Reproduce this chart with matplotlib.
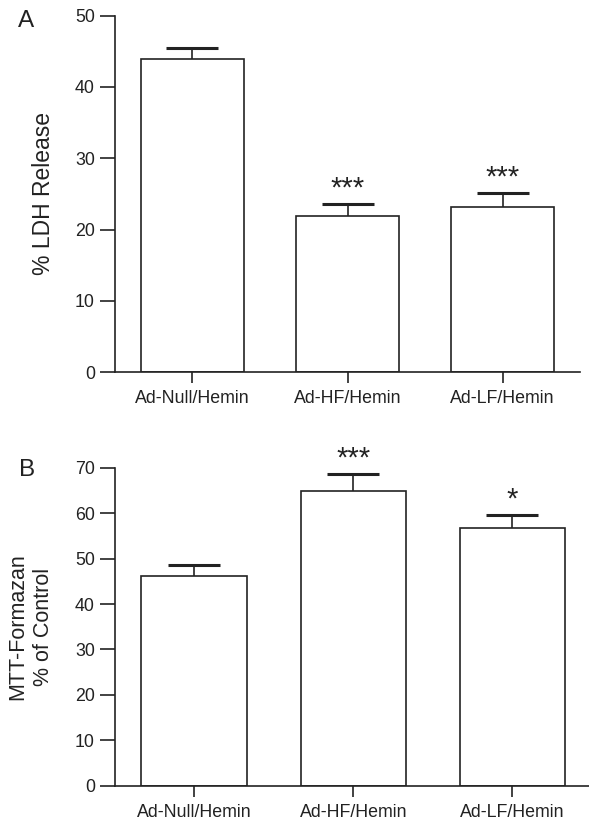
import matplotlib
matplotlib.use("Agg")
import matplotlib.pyplot as plt
import numpy as np

plt.rcParams['font.family'] = ['Liberation Sans', 'DejaVu Sans']

categories = ["Ad-Null/Hemin", "Ad-HF/Hemin", "Ad-LF/Hemin"]
ldh_values = [43.9, 21.9, 23.2]
ldh_errors = [1.6, 1.7, 1.9]
ldh_sig = ["", "***", "***"]
mtt_values = [46.2, 64.9, 56.6]
mtt_errors = [2.4, 3.6, 3.0]
mtt_sig = ["", "***", "*"]

TXT = "#222222"
fig = plt.figure(figsize=(5.89, 8.25), dpi=100)

def panel(rect, vals, errs, sig, ymax, step, ylabel, ylab_size, ylab_ls,
          letter, letter_pos, ylab_x):
    ax = fig.add_axes(rect)
    x = np.arange(len(categories))
    ax.bar(x, vals, width=0.665, color="white", edgecolor=TXT, linewidth=1.2, zorder=2)
    eb = ax.errorbar(x, vals, yerr=[np.zeros(len(vals)), errs], fmt="none", ecolor=TXT,
                     elinewidth=1.2, capsize=18.5, capthick=2.2, zorder=3)
    eb[1][0].set_visible(False)
    for xi, v, e, s in zip(x, vals, errs, sig):
        if s:
            ax.annotate(s, (xi, v + e), xytext=(0, 1), textcoords="offset points",
                        ha="center", va="bottom", fontsize=21, color=TXT)
    ax.set_xlim(-0.5, 2.5)
    ax.set_ylim(0, ymax)
    ax.set_yticks(np.arange(0, ymax + 1, step))
    ax.set_xticks(x)
    ax.set_xticklabels(categories)
    for sp in ["top", "right"]:
        ax.spines[sp].set_visible(False)
    for sp in ["left", "bottom"]:
        ax.spines[sp].set_linewidth(1.2)
        ax.spines[sp].set_color(TXT)
    ax.tick_params(axis="y", length=10.8, width=1.2, color=TXT, labelsize=12.8,
                   labelcolor=TXT, pad=3.5)
    ax.tick_params(axis="x", length=8, width=1.2, color=TXT, labelsize=12.8,
                   labelcolor=TXT, pad=5)
    ax.set_ylabel(ylabel, fontsize=ylab_size, color=TXT, linespacing=ylab_ls)
    ax.yaxis.set_label_coords(ylab_x, 0.5)
    fig.text(letter_pos[0], letter_pos[1], letter, fontsize=17.5, color=TXT,
             ha="left", va="center")
    ax.patch.set_visible(False)
    return ax

panel([0.195, 0.549, 0.79, 0.432], ldh_values, ldh_errors, ldh_sig, 50, 10,
      "% LDH Release", 16.5, 1.0, "A", (0.030, 0.975), -0.129)
panel([0.195, 0.0473, 0.81, 0.386], mtt_values, mtt_errors, mtt_sig, 70, 10,
      "MTT-Formazan\n% of Control", 15.5, 1.3, "B", (0.033, 0.430), -0.127)

fig.savefig("out.png", dpi=100)
